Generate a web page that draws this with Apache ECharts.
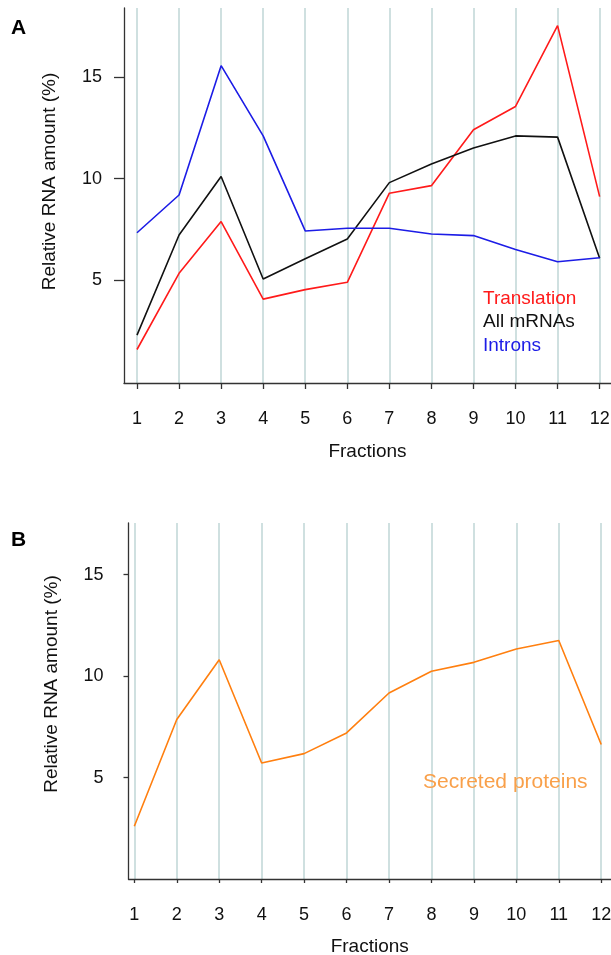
<!DOCTYPE html>
<html>
<head>
<meta charset="utf-8">
<script src="https://cdn.jsdelivr.net/npm/echarts@6/dist/echarts.min.js"></script>
<style>
  html, body { margin: 0; padding: 0; background: #fff; }
  #chart { width: 611px; height: 955px; }
</style>
</head>
<body>
<div id="chart"></div>
<script>
// Fractions 1..12 of the gradient
const fractions = [1, 2, 3, 4, 5, 6, 7, 8, 9, 10, 11, 12];
const yTicks = [5, 10, 15];

// Panel A: relative RNA amount (%) per fraction
const translation = [1.58, 5.33, 7.88, 4.06, 4.53, 4.89, 9.28, 9.65, 12.40, 13.55, 17.53, 9.11];
const allMRNAs    = [2.29, 7.22, 10.10, 5.05, 6.05, 7.02, 9.80, 10.72, 11.50, 12.10, 12.04, 6.07];
const introns     = [7.33, 9.19, 15.56, 12.10, 7.42, 7.55, 7.55, 7.27, 7.19, 6.51, 5.90, 6.10];

// Panel B: secreted proteins
const secreted    = [2.60, 7.86, 10.81, 5.72, 6.18, 7.20, 9.17, 10.24, 10.68, 11.34, 11.76, 6.63];

const FONT = 'Liberation Sans, Arial, sans-serif';
const pairs = vals => fractions.map((f, i) => [f, vals[i]]);

function xAxisFor(gridIndex, min, max, tickLen, labelMargin, nameGap) {
  return {
    gridIndex, type: 'value', min, max,
    name: 'Fractions', nameLocation: 'middle', nameGap,
    nameTextStyle: { fontFamily: FONT, fontSize: 19, color: '#111' },
    axisLine: { show: true, onZero: false, lineStyle: { color: '#333', width: 1.3 } },
    axisTick: { show: true, customValues: fractions, length: tickLen, lineStyle: { color: '#333', width: 1.3 } },
    axisLabel: { customValues: fractions, margin: labelMargin, fontFamily: FONT, fontSize: 18, color: '#111' },
    splitLine: { show: true, lineStyle: { color: '#bfd6d6', width: 1.5 } }
  };
}

// namePad moves the rotated axis title along the axis (towards the top)
function yAxisFor(gridIndex, min, max, tickLen, labelMargin, nameGap, namePad) {
  return {
    gridIndex, type: 'value', min, max,
    name: 'Relative RNA amount (%)', nameLocation: 'middle', nameGap,
    nameTextStyle: { fontFamily: FONT, fontSize: 19, color: '#111', padding: [0, 0, 0, namePad] },
    axisLine: { show: true, onZero: false, lineStyle: { color: '#333', width: 1.3 } },
    axisTick: { show: true, customValues: yTicks, length: tickLen, lineStyle: { color: '#333', width: 1.3 } },
    axisLabel: { customValues: yTicks, margin: labelMargin, fontFamily: FONT, fontSize: 18, color: '#111', padding: [4, 0, 0, 0] },
    splitLine: { show: false }
  };
}

function lineSeries(name, vals, color, axisIndex) {
  return {
    name, type: 'line', xAxisIndex: axisIndex, yAxisIndex: axisIndex,
    data: pairs(vals), symbol: 'none', smooth: false,
    lineStyle: { color, width: 1.6 }, itemStyle: { color },
    emphasis: { disabled: true }
  };
}

const chart = echarts.init(document.getElementById('chart'), null, { renderer: 'canvas' });
chart.setOption({
  animation: false,
  backgroundColor: '#fff',
  grid: [
    { left: 124, top: 8, width: 487, height: 375, outerBoundsMode: 'none' },
    { left: 128.5, top: 523, width: 482.5, height: 356, outerBoundsMode: 'none' }
  ],
  xAxis: [
    xAxisFor(0, 0.691, 12.27, 6, 27, 59),
    xAxisFor(1, 0.863, 12.23, 4, 27, 58)
  ],
  yAxis: [
    yAxisFor(0, -0.07, 18.4, 10, 22, 65, 28),
    yAxisFor(1, 0, 17.55, 5, 25, 67, 34)
  ],
  legend: [
    {
      orient: 'vertical', left: 473, top: 284, icon: 'none',
      itemWidth: 0, itemHeight: 0, itemGap: 4.5, selectedMode: false,
      textStyle: { fontFamily: FONT, fontSize: 19 },
      data: [
        { name: 'Translation', textStyle: { color: '#ff1a1a' } },
        { name: 'All mRNAs', textStyle: { color: '#111' } },
        { name: 'Introns', textStyle: { color: '#1c1ce6' } }
      ]
    },
    {
      orient: 'vertical', left: 413, top: 767, icon: 'none',
      itemWidth: 0, itemHeight: 0, selectedMode: false,
      textStyle: { fontFamily: FONT, fontSize: 21 },
      data: [{ name: 'Secreted proteins', textStyle: { color: '#f9a04a' } }]
    }
  ],
  graphic: [
    { type: 'text', left: 11, top: 18, style: { text: 'A', font: 'bold 21px ' + FONT, fill: '#000' } },
    { type: 'text', left: 11, top: 530, style: { text: 'B', font: 'bold 21px ' + FONT, fill: '#000' } }
  ],
  series: [
    lineSeries('Translation', translation, '#ff1a1a', 0),
    lineSeries('All mRNAs', allMRNAs, '#111111', 0),
    lineSeries('Introns', introns, '#1c1ce6', 0),
    lineSeries('Secreted proteins', secreted, '#ff7f0f', 1)
  ]
});
</script>
</body>
</html>
